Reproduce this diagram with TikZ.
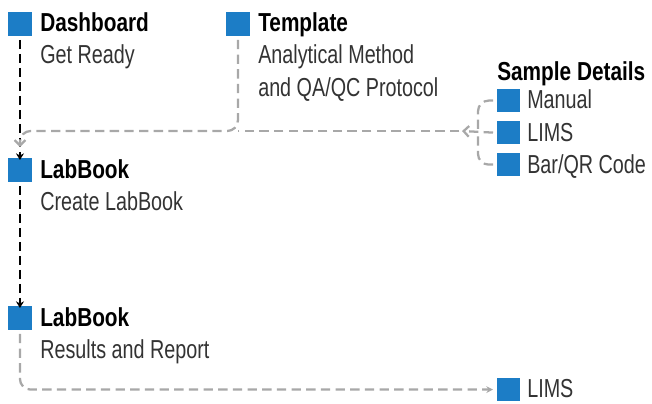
\documentclass[tikz,border=0pt]{standalone}
\usepackage{fontspec}
\setmainfont{Liberation Sans}[FakeStretch=0.76, BoldFeatures={FakeStretch=0.80}]
\usetikzlibrary{positioning, arrows.meta}
\definecolor{qblue}{HTML}{1C7DC6}
\definecolor{qgray}{HTML}{A8A8A8}

\begin{document}
\begin{tikzpicture}[x=0.75pt, y=-0.75pt, line join=round,
    sq/.style={fill=qblue, minimum size=17.5pt, inner sep=0pt, anchor=north west},
    head/.style={font=\fontsize{19.5}{24}\selectfont\bfseries, anchor=base west, inner sep=0pt},
    sub/.style={font=\fontsize{19.5}{24}\selectfont, text=black!80, anchor=base west, inner sep=0pt},
    flow/.style={line width=1.9pt, dash pattern=on 7pt off 3.5pt, -{Stealth[length=5pt,width=6pt]}},
    feed/.style={qgray, line width=1.7pt, dash pattern=on 7pt off 4pt, rounded corners=8pt}]
        \useasboundingbox (0,0) rectangle (652,403);

        % left column
        \node[sq] (dash) at (8,12) {};
        \node[head] (dashhd) at (40,32) {Dashboard};
        \node[sub] (dashtx) at (40,64) {Get Ready};

        \node[sq] (lab1) at (8,158) {};
        \node[head] (lab1hd) at (40,178) {LabBook};
        \node[sub] (lab1tx) at (40,210) {Create LabBook};

        \node[sq] (lab2) at (8,306) {};
        \node[head] (lab2hd) at (40,326) {LabBook};
        \node[sub] (lab2tx) at (40,358) {Results and Report};

        % template
        \node[sq] (tmpl) at (226,12) {};
        \node[head] (tmplhd) at (258,32) {Template};
        \node[sub] (tmpltx) at (258,64) {Analytical Method};
        \node[sub] (tmpltx2) at (258,96) {and QA/QC Protocol};

        % sample details
        \node[head] (smphd) at (497,80) {Sample Details};
        \node[sq, minimum size=17pt] (sman) at (497,89) {};
        \node[sub] (smantx) at (527,108) {Manual};
        \node[sq, minimum size=17pt] (slims) at (497,121) {};
        \node[sub] (slimstx) at (527,141) {LIMS};
        \node[sq, minimum size=17pt] (sbar) at (497,153) {};
        \node[sub] (sbartx) at (527,173) {Bar/QR Code};

        % output
        \node[sq, minimum size=17pt] (olims) at (497,378) {};
        \node[sub] (olimstx) at (527,397) {LIMS};

        \coordinate (bus) at (20,131);
        \coordinate (mrg) at (20,147);
        \coordinate (sjoin) at (462,131);
        \coordinate (sfork) at (478,131);

        % main flow
        \draw[flow] ([yshift=-3pt]dash.south) -- ([yshift=-1.5pt]lab1.north);
        \draw[flow] ([yshift=-3pt]lab1.south) -- ([yshift=-1.5pt]lab2.north);

        % inputs to the labbook
        \draw[feed, -{Straight Barb[length=4pt]}] ([yshift=-3pt]tmpl.south) |- (bus) -- (mrg);
        \draw[feed] ([xshift=-2pt]sjoin) -- (tmpl.south |- bus);
        \draw[feed, -{Straight Barb[length=4pt]}] ([xshift=-3pt]slims.west) -- (sjoin);
        \draw[feed] ([xshift=-3pt]sman.west) -| (sfork);
        \draw[feed] ([xshift=-3pt]sbar.west) -| (sfork);

        % results out
        \draw[feed, -{Stealth[length=5pt,width=5pt]}] ([yshift=-3pt]lab2.south) |- ([xshift=-3pt]olims.west);
\end{tikzpicture}
\end{document}
